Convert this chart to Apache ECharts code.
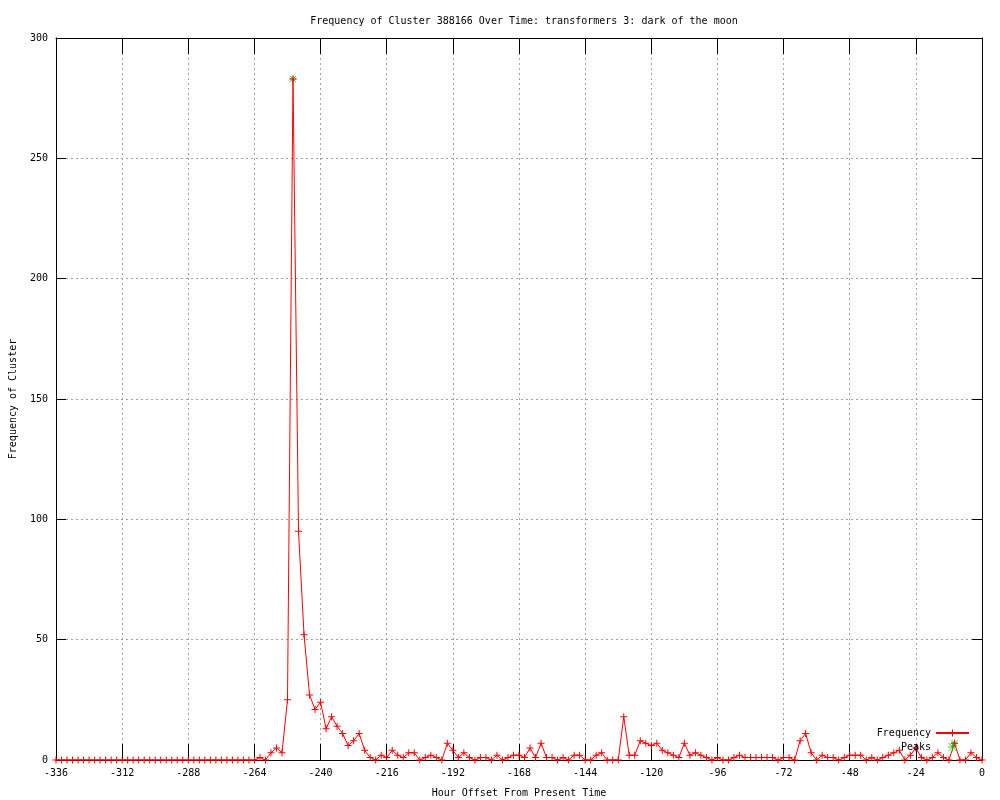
<!DOCTYPE html>
<html>
<head>
<meta charset="utf-8">
<script src="https://cdn.jsdelivr.net/npm/echarts@6/dist/echarts.min.js"></script>
<style>html,body{margin:0;padding:0;background:#fff}#c{width:1000px;height:800px}</style>
</head>
<body>
<div id="c"></div>
<script>
// hour offsets: -336 .. 0 in steps of 2 hours
const hourStart = -336, hourStep = 2;
const frequency = [
  0,0,0,0,0,0,0,0,0,0,0,0,0,0,0,0,0,0,0,0,0,0,0,0,0,0,0,0,0,0,0,0,0,0,0,0,0,
  1,0,3,5,3,25,283,95,52,27,21,24,13,18,14,11,6,8,11,4,1,0,2,1,
  4,2,1,3,3,0,1,2,1,0,7,4,1,3,1,0,1,1,0,2,0,1,2,2,1,5,
  1,7,1,1,0,1,0,2,2,0,0,2,3,0,0,0,18,2,2,8,7,6,7,4,3,2,
  1,7,2,3,2,1,0,1,0,0,1,2,1,1,1,1,1,1,0,1,1,0,8,11,3,0,
  2,1,1,0,1,2,2,2,0,1,0,1,2,3,4,0,2,5,1,0,1,3,1,0,7,0,0,3,1,0
];
const peakHours = [-250, -10];
const peakValues = [283, 7];
const xTicks = { min: -336, max: 0, interval: 24 };
const yTicks = { min: 0, max: 300, interval: 50 };

const hours = frequency.map((_, i) => hourStart + i * hourStep);
const freqData = hours.map((h, i) => [h, frequency[i]]);
const peakData = peakHours.map((h, i) => [h, peakValues[i]]);

const FONT = 'DejaVu Sans Mono';
const plusPath = 'path://M3,0H4V3H7V4H4V7H3V4H0V3H3Z';
const starPath = 'path://M3.5,0L3.5,7M0,3.5L7,3.5M0.5,0.5L6.5,6.5M6.5,0.5L0.5,6.5';
const starStyle = { color: 'rgba(0,0,0,0)', borderColor: '#00c000', borderWidth: 1 };

const chart = echarts.init(document.getElementById('c'), null, {renderer: 'canvas'});
const gridLine = { show: true, lineStyle: { color: '#a0a0a0', type: [2, 3], width: 1 } };
chart.setOption({
  animation: false,
  backgroundColor: '#ffffff',
  title: {
    text: 'Frequency of Cluster 388166 Over Time: transformers 3: dark of the moon',
    left: 519, top: 11, textAlign: 'center',
    textStyle: { fontFamily: FONT, fontSize: 10, fontWeight: 'normal', color: '#000' }
  },
  grid: { left: 56, right: 18, top: 38, bottom: 40, containLabel: false, outerBoundsMode: 'none' },
  legend: {
    data: [
      { name: 'Frequency' },
      { name: 'Peaks', itemStyle: starStyle }
    ],
    orient: 'vertical', right: 30, top: 728, align: 'right', padding: 0,
    itemWidth: 33, itemHeight: 9, itemGap: 4,
    textStyle: { fontFamily: FONT, fontSize: 10, color: '#000' }
  },
  xAxis: [{
    type: 'value', min: xTicks.min, max: xTicks.max, interval: xTicks.interval,
    name: 'Hour Offset From Present Time', nameLocation: 'middle', nameGap: 28,
    nameTextStyle: { fontFamily: FONT, fontSize: 10, color: '#000' },
    axisLine: { show: true, onZero: false, lineStyle: { color: '#000', width: 1 } },
    axisTick: { show: true, inside: true, length: 16, lineStyle: { color: '#000' } },
    axisLabel: { fontFamily: FONT, fontSize: 10, color: '#000', margin: 8 },
    splitLine: gridLine
  }, {
    type: 'value', position: 'top', min: xTicks.min, max: xTicks.max, interval: xTicks.interval,
    axisLine: { show: true, onZero: false, lineStyle: { color: '#000', width: 1 } },
    axisTick: { show: true, inside: true, length: 16, lineStyle: { color: '#000' } },
    axisLabel: { show: false }, splitLine: { show: false }
  }],
  yAxis: [{
    type: 'value', min: yTicks.min, max: yTicks.max, interval: yTicks.interval,
    name: 'Frequency of Cluster', nameLocation: 'middle', nameGap: 38,
    nameTextStyle: { fontFamily: FONT, fontSize: 10, color: '#000' },
    axisLine: { show: true, onZero: false, lineStyle: { color: '#000', width: 1 } },
    axisTick: { show: true, inside: true, length: 10, lineStyle: { color: '#000' } },
    axisLabel: { fontFamily: FONT, fontSize: 10, color: '#000', margin: 8 },
    splitLine: gridLine
  }, {
    type: 'value', position: 'right', min: yTicks.min, max: yTicks.max, interval: yTicks.interval,
    axisLine: { show: true, onZero: false, lineStyle: { color: '#000', width: 1 } },
    axisTick: { show: true, inside: true, length: 10, lineStyle: { color: '#000' } },
    axisLabel: { show: false }, splitLine: { show: false }
  }],
  series: [{
    name: 'Frequency', type: 'line', data: freqData,
    xAxisIndex: 0, yAxisIndex: 0,
    symbol: plusPath, symbolSize: 7, showAllSymbol: true,
    lineStyle: { color: '#ff0000', width: 1 },
    itemStyle: { color: '#ff0000' },
    z: 3
  }, {
    name: 'Peaks', type: 'scatter', data: peakData,
    xAxisIndex: 0, yAxisIndex: 0,
    symbol: starPath, symbolSize: 7,
    itemStyle: starStyle,
    z: 2
  }]
});
</script>
</body>
</html>
